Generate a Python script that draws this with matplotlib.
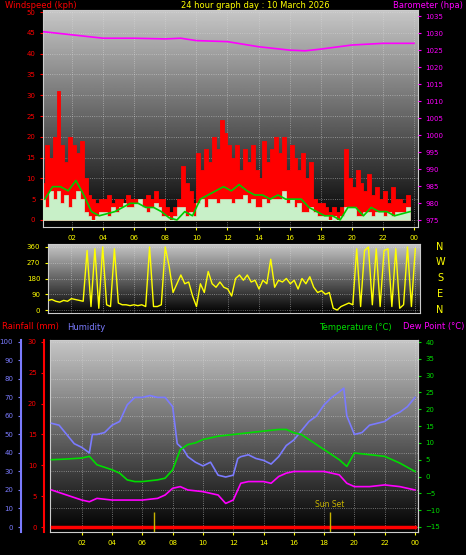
import numpy as np
import matplotlib
matplotlib.use("Agg")
import matplotlib.pyplot as plt

# quarter-hourly wind data (kph)
wind_t = np.arange(0, 24, 0.25)
gust = [9, 18, 15, 20, 31, 18, 14, 20, 18, 16, 19, 10, 6, 5, 4, 5,
        5, 6, 4, 5, 5, 4, 6, 5, 5, 4, 5, 6, 5, 7, 5, 5,
        3, 2, 3, 5, 13, 9, 7, 4, 16, 12, 17, 14, 20, 17, 24, 21,
        18, 15, 18, 12, 17, 14, 18, 12, 10, 19, 14, 17, 20, 16, 20, 12,
        18, 15, 12, 16, 10, 14, 5, 4, 4, 3, 2, 3, 2, 3, 17, 10,
        8, 12, 9, 7, 11, 6, 8, 5, 7, 4, 8, 5, 5, 4, 6, 5]
speed = [5, 3, 7, 5, 7, 4, 6, 3, 5, 7, 5, 2, 1, 0, 1, 2,
         2, 1, 3, 2, 3, 4, 3, 3, 4, 5, 3, 2, 3, 4, 3, 1,
         1, 0, 1, 3, 3, 1, 2, 1, 4, 5, 3, 5, 5, 4, 5, 5,
         5, 4, 5, 5, 6, 4, 5, 3, 3, 5, 4, 5, 5, 5, 7, 4,
         5, 3, 4, 2, 2, 3, 2, 1, 1, 1, 0, 1, 0, 1, 3, 3,
         3, 1, 1, 2, 2, 1, 2, 2, 1, 2, 1, 2, 2, 2, 3, 3]
avg_t = np.arange(0, 24, 0.5) + 0.25
avg = [5, 8, 8, 7, 9.5, 6, 2, 1, 1.5, 2, 3, 4, 4, 3, 3, 2, 0.5, 0, 2, 1,
       5, 6, 7, 8, 7, 8.5, 7, 6, 6, 5, 6, 5, 5, 5, 3, 2, 1, 1, 0, 3,
       3, 1, 3, 2, 2, 1, 1.5, 2]

baro_t = [0, 2, 4, 6, 8, 9, 10, 12, 14, 16, 17, 18, 20, 22, 24]
baro = [1030.5, 1029.5, 1028.5, 1028.5, 1028.3, 1028.5, 1027.8, 1027.5, 1026,
        1025, 1024.8, 1025.3, 1026.5, 1027, 1027]

dir_t = np.arange(0, 24.01, 0.25)
wdir = [75, 60, 55, 60, 50, 45, 55, 50, 65, 60, 55, 50,
        340, 20, 350, 10, 360, 30, 20, 350, 40, 30, 30, 25,
        30, 25, 30, 20, 360, 20, 20, 30, 360, 250, 100, 150,
        200, 150, 160, 80, 20, 150, 100, 220, 150, 130, 160, 130,
        120, 80, 180, 200, 170, 200, 160, 170, 120, 170, 150, 290,
        130, 170, 160, 180, 150, 170, 120, 180, 150, 190, 130, 100,
        110, 90, 100, 10, 0, 20, 30, 40, 30, 350, 20, 340,
        360, 30, 350, 20, 340, 350, 20, 350, 10, 30, 360, 20, 350]

hum_t = [0, 0.5, 1, 1.5, 2, 2.5, 2.7, 3, 3.5, 4, 4.5, 5, 5.5, 6, 6.5, 7, 7.5, 8, 8.3, 8.7,
         9, 9.5, 10, 10.5, 11, 11.5, 12, 12.3, 12.5, 13, 13.5, 14, 14.5, 15, 15.5, 16, 16.5,
         17, 17.5, 18, 18.5, 19, 19.3, 19.5, 20, 20.5, 21, 21.5, 22, 22.5, 23, 23.5, 24]
hum = [56, 55, 50, 45, 43, 40, 50, 50, 51, 55, 57, 66, 70, 70, 71, 70, 70, 65, 45, 42,
       38, 35, 33, 35, 28, 27, 28, 37, 38, 39, 37, 36, 34, 38, 44, 47, 52,
       57, 60, 66, 70, 73, 75, 60, 50, 51, 55, 56, 57, 60, 62, 65, 70]

temp_t = [0, 1, 2, 2.5, 3, 4, 4.5, 5, 5.5, 6, 7, 7.5, 8, 8.5, 9, 9.5, 10, 11, 12, 13, 14,
          15, 15.5, 16, 16.5, 17, 18, 19, 19.5, 20, 21, 22, 22.5, 23, 24]
temp = [5, 5.2, 5.5, 6, 3.5, 2, 1, -1, -1.5, -1.5, -1, -0.5, 2, 8, 9.5, 10, 11, 12, 12.5,
        13, 13.5, 14, 14, 13, 12.5, 11, 8, 5, 3, 7, 6.5, 6, 5, 4, 1.5]

dew_t = [0, 1, 2, 2.5, 3, 4, 6, 7, 7.5, 8, 8.5, 9, 10, 11, 11.5, 12, 12.5, 13, 14, 14.5,
         15, 15.5, 16, 17, 18, 19, 19.5, 20, 21, 22, 23, 24]
dew = [-4, -5.5, -7, -7.5, -6.5, -7, -7, -6.5, -5.5, -3.5, -3, -4, -4.5, -5.5, -8, -7, -2,
       -1.5, -1.5, -2, 0, 1, 1.5, 1.5, 1.5, 0.5, -2, -3, -3, -2.5, -3, -4]

rain_t = [0, 24]
rain = [0, 0]

hour_ticks = list(range(2, 25, 2))
hour_labels = ["%02d" % (h % 24) for h in hour_ticks]

W, H = 466, 555
fig = plt.figure(figsize=(W / 100, H / 100), dpi=100, facecolor="black")

def box(x0, y0, x1, y1):
    return [x0 / W, 1 - y1 / H, (x1 - x0) / W, (y1 - y0) / H]

def backdrop(ax):
    grad = np.linspace(0.78, 0.0, 256).reshape(-1, 1)
    ax.imshow(grad, cmap="gray", vmin=0, vmax=1, aspect="auto",
              extent=[0, 1, 0, 1], transform=ax.transAxes, zorder=0)
    ax.grid(True, color="#dddddd", linestyle=":", linewidth=0.6, alpha=0.6)
    ax.set_axisbelow(True)
    for s in ax.spines.values():
        s.set_color("#cccccc")

FS = 5
TFS = 6

# ---- top panel: wind + barometer
ax1 = fig.add_axes(box(43, 10, 418, 227))
backdrop(ax1)
ax1.fill_between(wind_t, 0, gust, step="post", color="red", lw=0.6, zorder=2)
ax1.fill_between(wind_t, 0, speed, step="post", color="#c8f0c8", lw=0.5, zorder=3)
ax1.plot(avg_t, avg, color="#00cc00", lw=1.2, zorder=4)
ax1.set_xlim(0.13, 24.26)
ax1.set_ylim(-1.7, 50.5)
ax1.set_yticks(range(0, 51, 5))
ax1.tick_params(axis="y", colors="red", labelsize=FS, length=2)
ax1.set_xticks(hour_ticks)
ax1.set_xticklabels(hour_labels)
ax1.tick_params(axis="x", colors="#ffff00", labelsize=FS, length=2)
ax1b = ax1.twinx()
ax1b.plot(baro_t, baro, color="#ff00ff", lw=1.2)
ax1b.set_ylim(973.0, 1036.8)
ax1b.set_yticks(range(975, 1036, 5))
ax1b.tick_params(axis="y", colors="#ff00ff", labelsize=FS, length=2)
for s in ax1b.spines.values():
    s.set_visible(False)
fig.text(5 / W, 1 - 6 / H, "Windspeed (kph)", color="red", fontsize=TFS, va="center")
fig.text(255 / W, 1 - 6 / H, "24 hour graph day : 10 March 2026", color="#ffff00",
         fontsize=TFS, va="center", ha="center")
fig.text(463 / W, 1 - 6 / H, "Barometer (hpa)", color="#ff00ff", fontsize=TFS,
         va="center", ha="right")

# ---- middle panel: wind direction
ax2 = fig.add_axes(box(48, 244, 420, 313))
backdrop(ax2)
ax2.plot(dir_t, wdir, color="#ffff00", lw=1.0, zorder=3)
ax2.set_xlim(0.5, 24.3)
ax2.set_ylim(-17, 377)
ax2.set_yticks(range(0, 361, 90))
ax2.tick_params(axis="y", colors="#ffff00", labelsize=FS, length=2)
ax2.set_xticks(hour_ticks)
ax2.set_xticklabels([])
ax2.tick_params(axis="x", length=0)
for y, c in zip([247, 262, 278, 294, 310], "NWSEN"):
    fig.text(440 / W, 1 - y / H, c, color="#ffff00", fontsize=7, ha="center", va="center")

# ---- bottom panel: humidity, rain, temperature, dew point
ax3 = fig.add_axes(box(50, 340, 418, 532))
backdrop(ax3)
ax3.set_xlim(-0.1, 24.2)
ax3.set_ylim(-2.7, 101)
ax3.plot(hum_t, hum, color="#7b7bff", lw=1.2, zorder=3)
ax3.set_yticks(range(0, 101, 10))
ax3.set_yticklabels([])
ax3.tick_params(axis="y", length=0)
ax3.set_xticks(hour_ticks)
ax3.set_xticklabels(hour_labels)
ax3.tick_params(axis="x", colors="#ffff00", labelsize=FS, length=2)

ax3r = ax3.twinx()
ax3r.set_ylim(-2.7 * 30 / 100, 101 * 30 / 100)
ax3r.plot(rain_t, rain, color="red", lw=2.5, zorder=4)
ax3r.yaxis.set_ticks_position("left")
ax3r.spines["left"].set_position(("outward", 4))
ax3r.spines["left"].set_color("red")
ax3r.spines["left"].set_linewidth(1.5)
ax3r.set_yticks(range(0, 31, 5))
ax3r.tick_params(axis="y", colors="red", labelsize=FS, length=2)
for k in ["right", "top", "bottom"]:
    ax3r.spines[k].set_visible(False)

ax3h = ax3.twinx()
ax3h.set_ylim(-2.7, 101)
ax3h.yaxis.set_ticks_position("left")
ax3h.spines["left"].set_position(("outward", 21))
ax3h.spines["left"].set_color("#7b7bff")
ax3h.spines["left"].set_linewidth(1.5)
ax3h.set_yticks(range(0, 101, 10))
ax3h.tick_params(axis="y", colors="#7b7bff", labelsize=FS, length=2)
for k in ["right", "top", "bottom"]:
    ax3h.spines[k].set_visible(False)

ax3t = ax3.twinx()
ax3t.set_ylim(-16.5, 40.6)
ax3t.plot(temp_t, temp, color="#00dd00", lw=1.2, zorder=3)
ax3t.plot(dew_t, dew, color="#ff00ff", lw=1.2, zorder=3)
ax3t.set_yticks(range(-15, 41, 5))
ax3t.tick_params(axis="y", colors="#00dd00", labelsize=FS, length=2)
ax3t.vlines([6.75, 18.4], -16.5, -10.5, color="#c8b400", lw=1)
ax3t.text(18.4, -9.8, "Sun Set", color="#c8b400", fontsize=5.5, ha="center", va="bottom")
for k in ["left", "top", "bottom"]:
    ax3t.spines[k].set_visible(False)
ax3t.spines["right"].set_color("#cccccc")

fig.text(2 / W, 1 - 327 / H, "Rainfall (mm)", color="red", fontsize=TFS, va="center")
fig.text(67 / W, 1 - 327 / H, "Humidity", color="#7b7bff", fontsize=TFS, va="center")
fig.text(392 / W, 1 - 327 / H, "Temperature (\u00b0C)", color="#00dd00", fontsize=TFS,
         va="center", ha="right")
fig.text(464 / W, 1 - 327 / H, "Dew Point (\u00b0C)", color="#ff00ff", fontsize=TFS,
         va="center", ha="right")

fig.savefig("out.png", dpi=100, facecolor="black")
